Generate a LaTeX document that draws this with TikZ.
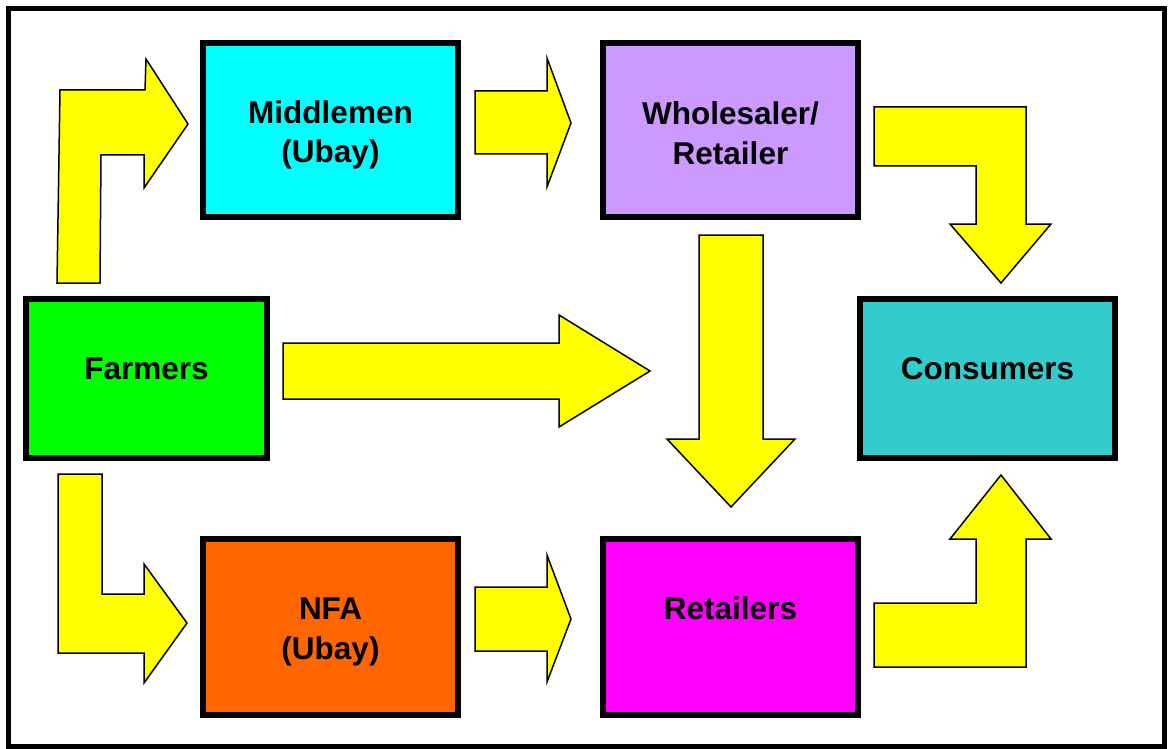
\documentclass[tikz,border=0pt]{standalone}
\usepackage{fontspec}
\setmainfont{Liberation Sans}
\definecolor{cMid}{HTML}{00FFFF}
\definecolor{cWhole}{HTML}{CC99FF}
\definecolor{cFarm}{HTML}{00FF00}
\definecolor{cCons}{HTML}{33CCCC}
\definecolor{cNFA}{HTML}{FF6600}
\definecolor{cRet}{HTML}{FF00FF}
\definecolor{cArrow}{HTML}{FFFF00}
\tikzset{
  box/.style={draw=black, line width=6pt, rectangle, inner sep=0pt},
  lbl/.style={font=\fontsize{31.5}{39.5}\selectfont\bfseries, align=center, inner sep=0pt, text=black},
  blockarrow/.style={fill=cArrow, draw=black, line width=1.5pt, line join=miter},
  frame/.style={draw=black, line width=5pt}
}
\begin{document}
\begin{tikzpicture}[x=1pt, y=-1pt]
\useasboundingbox (0,0) rectangle (1168,749);
\fill[white] (0,0) rectangle (1168,749);
\draw[frame] (8,8.5) rectangle (1164.5,746.5);

% boxes (outer edge minus line width)
\node[box, fill=cMid,   minimum width=255pt, minimum height=174pt] (mid)   at (330.5,130) {};
\node[box, fill=cWhole, minimum width=255pt, minimum height=174pt] (whole) at (730.5,130) {};
\node[box, fill=cFarm,  minimum width=241pt, minimum height=159pt] (farm)  at (146.5,378.5) {};
\node[box, fill=cCons,  minimum width=255pt, minimum height=159pt] (cons)  at (987.5,378.5) {};
\node[box, fill=cNFA,   minimum width=255pt, minimum height=176pt] (nfa)   at (330.5,627) {};
\node[box, fill=cRet,   minimum width=255pt, minimum height=176pt] (ret)   at (730.5,627) {};

% labels
\node[lbl] (midT)   at ([yshift=-5pt]mid.center)   {Middlemen\\(Ubay)};
\node[lbl] (wholeT) at ([yshift=-3pt]whole.center) {Wholesaler/\\Retailer};
\node[lbl] (farmT)  at ([yshift=10pt]farm.center)  {Farmers};
\node[lbl] (consT)  at ([yshift=10pt]cons.center)  {Consumers};
\node[lbl] (nfaT)   at ([yshift=-5pt]nfa.center)   {NFA\\(Ubay)};
\node[lbl] (retT)   at ([yshift=19pt]ret.center)   {Retailers};

% Farmers -> Middlemen (bent up and right)
\filldraw[blockarrow] (57,283) -- (100,283) -- (101,155) -- (144,155) -- (144,188)
  -- (188,124) -- (146,59) -- (145,90) -- (60,90) -- cycle;
% Farmers -> NFA (bent down and right)
\filldraw[blockarrow] (58,474) -- (102,474) -- (102,594) -- (144,594) -- (144,564)
  -- (187,623) -- (144,683) -- (144,653) -- (58,653) -- cycle;
% Middlemen -> Wholesaler
\filldraw[blockarrow] (475,91) -- (547,91) -- (547,58) -- (571,123) -- (547,187)
  -- (547,154) -- (475,154) -- cycle;
% NFA -> Retailers
\filldraw[blockarrow] (475,587) -- (547,587) -- (547,555) -- (571,619) -- (547,682)
  -- (547,651) -- (475,651) -- cycle;
% Farmers -> Retailers (straight)
\filldraw[blockarrow] (283,343) -- (559,343) -- (559,315) -- (650,371) -- (559,427)
  -- (559,399) -- (283,399) -- cycle;
% Wholesaler -> Retailers (down)
\filldraw[blockarrow] (699,235) -- (763,235) -- (763,439) -- (795,439) -- (731,507)
  -- (667,439) -- (699,439) -- cycle;
% Wholesaler -> Consumers (bent right and down)
\filldraw[blockarrow] (874,107) -- (1026,107) -- (1026,224) -- (1051,224) -- (1001,283)
  -- (950,224) -- (976,224) -- (976,166) -- (874,166) -- cycle;
% Retailers -> Consumers (bent right and up)
\filldraw[blockarrow] (874,667) -- (1026,667) -- (1026,539) -- (1051,539) -- (1001,475)
  -- (950,539) -- (976,539) -- (976,603) -- (874,603) -- cycle;
\end{tikzpicture}
\end{document}
